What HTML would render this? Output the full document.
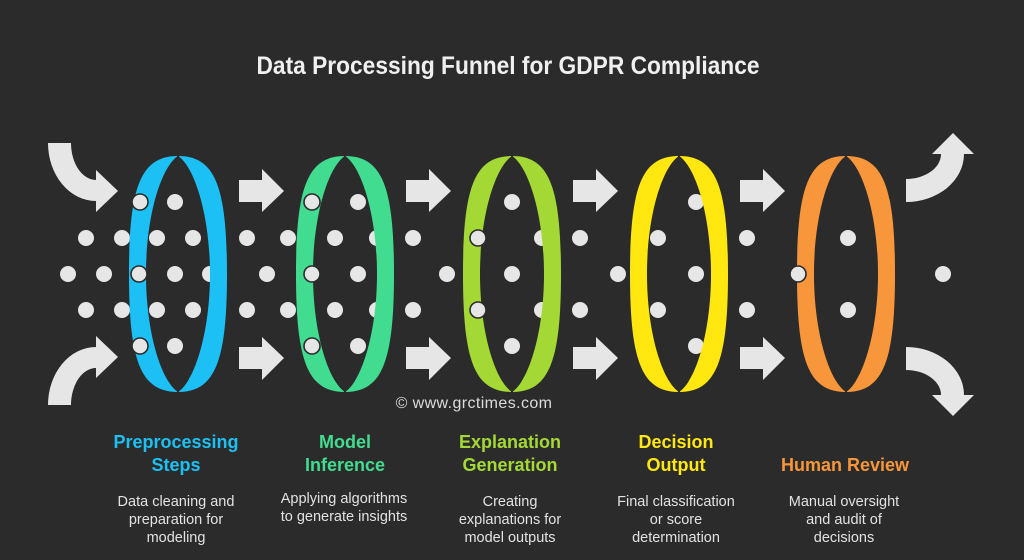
<!DOCTYPE html>
<html>
<head>
<meta charset="utf-8">
<style>
  html,body{margin:0;padding:0;background:#2b2b2b;}
  svg{display:block;}
  text{font-family:"Liberation Sans",Arial,sans-serif;}
</style>
</head>
<body>
<svg width="1024" height="560" viewBox="0 0 1024 560" xmlns="http://www.w3.org/2000/svg" font-family="'Liberation Sans', Arial, sans-serif">
  <rect width="1024" height="560" fill="#2b2b2b"/>

  <!-- Title -->
  <text x="508" y="74" text-anchor="middle" font-size="25" font-weight="bold" fill="#f0f0f0" textLength="503" lengthAdjust="spacingAndGlyphs">Data Processing Funnel for GDPR Compliance</text>

  <!-- Curved arrows -->
  <g fill="#e6e6e6">
    <path d="M48,143 L71,143 A25 37 0 0 0 96,180 L96,170 L118,191 L96,212 L96,201 A48 58 0 0 1 48,143 Z"/>
    <path transform="matrix(1,0,0,-1,0,548)" d="M48,143 L71,143 A25 37 0 0 0 96,180 L96,170 L118,191 L96,212 L96,201 A48 58 0 0 1 48,143 Z"/>
    <path d="M906,179 A35 25 0 0 0 941,154 L932,154 L953,133 L974,154 L964,154 A58 48 0 0 1 906,202 Z"/>
    <path transform="matrix(1,0,0,-1,0,549)" d="M906,179 A35 25 0 0 0 941,154 L932,154 L953,133 L974,154 L964,154 A58 48 0 0 1 906,202 Z"/>
  </g>

  <!-- Straight arrows -->
  <g fill="#e6e6e6">
    <path d="M239,180 L262,180 L262,169 L284,191 L262,212 L262,202 L239,202 Z"/>
    <path transform="translate(167,0)" d="M239,180 L262,180 L262,169 L284,191 L262,212 L262,202 L239,202 Z"/>
    <path transform="translate(334,0)" d="M239,180 L262,180 L262,169 L284,191 L262,212 L262,202 L239,202 Z"/>
    <path transform="translate(501,0)" d="M239,180 L262,180 L262,169 L284,191 L262,212 L262,202 L239,202 Z"/>
    <path d="M239,369 L262,369 L262,380 L284,358 L262,337 L262,347 L239,347 Z"/>
    <path transform="translate(167,0)" d="M239,369 L262,369 L262,380 L284,358 L262,337 L262,347 L239,347 Z"/>
    <path transform="translate(334,0)" d="M239,369 L262,369 L262,380 L284,358 L262,337 L262,347 L239,347 Z"/>
    <path transform="translate(501,0)" d="M239,369 L262,369 L262,380 L284,358 L262,337 L262,347 L239,347 Z"/>
  </g>

  <!-- Plain dots (behind rings) -->
  <g fill="#e6e6e6">
    <circle cx="86" cy="238" r="8"/><circle cx="122" cy="238" r="8"/><circle cx="157" cy="238" r="8"/><circle cx="193" cy="238" r="8"/>
    <circle cx="86" cy="310" r="8"/><circle cx="122" cy="310" r="8"/><circle cx="157" cy="310" r="8"/><circle cx="193" cy="310" r="8"/>
    <circle cx="68" cy="274" r="8"/><circle cx="104" cy="274" r="8"/><circle cx="175" cy="274" r="8"/><circle cx="210" cy="274" r="8"/>
    <circle cx="175" cy="202" r="8"/><circle cx="175" cy="346" r="8"/>

    <circle cx="247" cy="238" r="8"/><circle cx="288" cy="238" r="8"/>
    <circle cx="247" cy="310" r="8"/><circle cx="288" cy="310" r="8"/>
    <circle cx="267" cy="274" r="8"/>

    <circle cx="358" cy="202" r="8"/><circle cx="358" cy="346" r="8"/>
    <circle cx="335" cy="238" r="8"/><circle cx="377" cy="238" r="8"/>
    <circle cx="335" cy="310" r="8"/><circle cx="377" cy="310" r="8"/>
    <circle cx="358" cy="274" r="8"/>

    <circle cx="413" cy="238" r="8"/><circle cx="413" cy="310" r="8"/><circle cx="447" cy="274" r="8"/>

    <circle cx="512" cy="202" r="8"/><circle cx="512" cy="346" r="8"/>
    <circle cx="542" cy="238" r="8"/><circle cx="542" cy="310" r="8"/>
    <circle cx="512" cy="274" r="8"/>

    <circle cx="580" cy="238" r="8"/><circle cx="580" cy="310" r="8"/><circle cx="618" cy="274" r="8"/>

    <circle cx="696" cy="202" r="8"/><circle cx="696" cy="346" r="8"/>
    <circle cx="658" cy="238" r="8"/><circle cx="658" cy="310" r="8"/>
    <circle cx="696" cy="274" r="8"/>

    <circle cx="747" cy="238" r="8"/><circle cx="747" cy="310" r="8"/>

    <circle cx="848" cy="238" r="8"/><circle cx="848" cy="310" r="8"/>

    <circle cx="943" cy="274" r="8"/>
  </g>

  <!-- Rings -->
  <defs>
    <path id="ring" fill-rule="evenodd" d="M0,156 C36.75,156 49,185.5 49,274 C49,362.5 36.75,392 0,392 C-36.75,392 -49,362.5 -49,274 C-49,185.5 -36.75,156 0,156 Z
      M0,156 C16,166 32,214 32,274 C32,334 16,382 0,392 C-16,382 -32,334 -32,274 C-32,214 -16,166 0,156 Z"/>
  </defs>
  <use href="#ring" x="178" fill="#1cc0f5"/>
  <use href="#ring" x="345" fill="#42dc91"/>
  <use href="#ring" x="512" fill="#a4d935"/>
  <use href="#ring" x="679" fill="#ffe70f"/>
  <use href="#ring" x="846" fill="#f7963a"/>
  <g stroke="#2b2b2b" stroke-width="2">
    <line x1="178" y1="154" x2="178" y2="161"/><line x1="178" y1="387" x2="178" y2="394"/>
    <line x1="345" y1="154" x2="345" y2="161"/><line x1="345" y1="387" x2="345" y2="394"/>
    <line x1="512" y1="154" x2="512" y2="161"/><line x1="512" y1="387" x2="512" y2="394"/>
    <line x1="679" y1="154" x2="679" y2="161"/><line x1="679" y1="387" x2="679" y2="394"/>
    <line x1="846" y1="154" x2="846" y2="161"/><line x1="846" y1="387" x2="846" y2="394"/>
  </g>

  <!-- Outlined dots (on top of rings) -->
  <g fill="#e6e6e6" stroke="#2b2b2b" stroke-width="1.6">
    <circle cx="140" cy="202" r="8"/><circle cx="139" cy="274" r="8"/><circle cx="140" cy="346" r="8"/>
    <circle cx="312" cy="202" r="8"/><circle cx="312" cy="274" r="8"/><circle cx="312" cy="346" r="8"/>
    <circle cx="478" cy="238" r="8"/><circle cx="478" cy="310" r="8"/>
    <circle cx="798" cy="274" r="8"/>
  </g>

  <!-- Watermark -->
  <text x="474" y="408" text-anchor="middle" font-family="'Liberation Sans', Arial, sans-serif" font-size="16" fill="#dcdcdc" letter-spacing="0.4">© www.grctimes.com</text>

  <!-- Labels -->
  <g font-size="18" font-weight="bold" text-anchor="middle">
    <text x="176" y="448" fill="#1cc0f5">Preprocessing</text>
    <text x="176" y="471" fill="#1cc0f5">Steps</text>
    <text x="345" y="448" fill="#42dc91">Model</text>
    <text x="345" y="471" fill="#42dc91">Inference</text>
    <text x="510" y="448" fill="#a4d935">Explanation</text>
    <text x="510" y="471" fill="#a4d935">Generation</text>
    <text x="676" y="448" fill="#ffe70f">Decision</text>
    <text x="676" y="471" fill="#ffe70f">Output</text>
    <text x="845" y="471" fill="#f7963a">Human Review</text>
  </g>

  <!-- Descriptions -->
  <g font-size="14.5" fill="#e2e2e2" text-anchor="middle">
    <text x="176" y="506">Data cleaning and</text>
    <text x="176" y="524">preparation for</text>
    <text x="176" y="542">modeling</text>

    <text x="344" y="503">Applying algorithms</text>
    <text x="344" y="521">to generate insights</text>

    <text x="510" y="506">Creating</text>
    <text x="510" y="524">explanations for</text>
    <text x="510" y="542">model outputs</text>

    <text x="676" y="506">Final classification</text>
    <text x="676" y="524">or score</text>
    <text x="676" y="542">determination</text>

    <text x="844" y="506">Manual oversight</text>
    <text x="844" y="524">and audit of</text>
    <text x="844" y="542">decisions</text>
  </g>
</svg>
</body>
</html>
